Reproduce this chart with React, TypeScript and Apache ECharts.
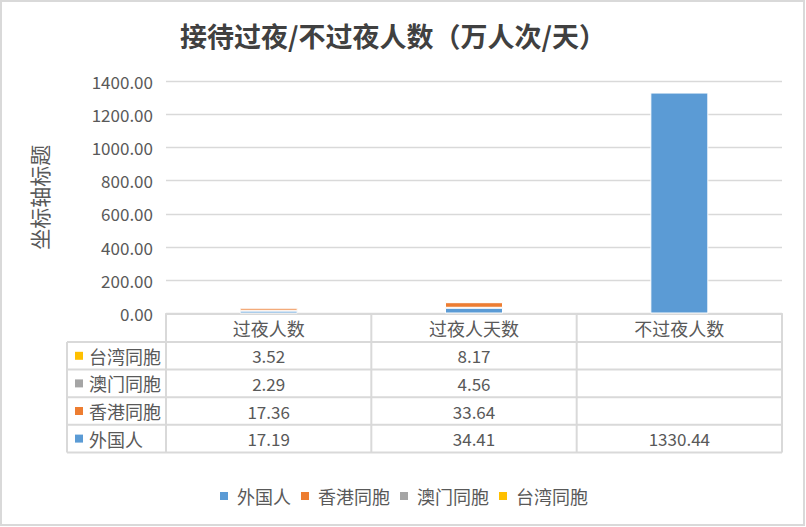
import React, { useEffect, useRef } from "react";
import * as echarts from "echarts";

const categories = ["过夜人数", "过夜人天数", "不过夜人数"];
const seriesNames = ["外国人", "香港同胞", "澳门同胞", "台湾同胞"];
const foreigners = [17.19, 34.41, 1330.44];
const hongKong = [17.36, 33.64, null];
const macau = [2.29, 4.56, null];
const taiwan = [3.52, 8.17, null];
const colors = ["#5B9BD5", "#ED7D31", "#A5A5A5", "#FFC000"];

const FONT = '"Noto Sans CJK SC", "Noto Sans", sans-serif';
const TEXT = "#595959";
const LINE = "#d9d9d9";

// 图表区域
const GRID_LEFT = 166;
const GRID_RIGHT = 782;
const GRID_TOP = 81;
const GRID_BOTTOM = 313.5;
const HEADER_H = 28.5;
const ROW_H = 27.6;
const TABLE_LEFT = 67;

export default function App() {
  const chartRef = useRef<HTMLDivElement>(null);

  useEffect(() => {
    if (!chartRef.current) return;
    const chart = echarts.init(chartRef.current, null, { renderer: "svg" });

    const allSeries = [foreigners, hongKong, macau, taiwan];

    chart.setOption({
      animation: false,
      grid: {
        left: GRID_LEFT,
        right: 806 - GRID_RIGHT,
        top: GRID_TOP,
        bottom: 527 - GRID_BOTTOM,
        containLabel: false,
      },
      legend: {
        data: seriesNames,
        left: "center",
        top: 482,
        itemWidth: 10,
        itemHeight: 10,
        itemGap: 8,
        icon: "rect",
        textStyle: { fontFamily: FONT, fontSize: 18, color: TEXT, padding: [0, 0, 0, 3] },
      },
      xAxis: {
        type: "category",
        data: categories,
        axisTick: { show: false },
        axisLine: { lineStyle: { color: LINE, width: 2 } },
        axisLabel: {
          interval: 0,
          margin: 5,
          fontFamily: FONT,
          fontSize: 18,
          color: TEXT,
        },
      },
      yAxis: {
        type: "value",
        min: 0,
        max: 1400,
        interval: 200,
        name: "坐标轴标题",
        nameLocation: "middle",
        nameGap: 117,
        nameTextStyle: { fontFamily: FONT, fontSize: 21, color: TEXT },
        axisLine: { show: false },
        axisTick: { show: false },
        axisLabel: {
          margin: 13,
          fontFamily: FONT,
          fontSize: 17,
          color: TEXT,
          formatter: (v: number) => v.toFixed(2),
        },
        splitLine: { lineStyle: { color: LINE, width: 1.3 } },
      },
      series: allSeries.map((data, i) => ({
        name: seriesNames[i],
        type: "bar",
        stack: "total",
        data,
        barWidth: 58,
        itemStyle: { color: colors[i], borderColor: "#fff", borderWidth: 1 },
      })),
    });

    // 数据表
    const colEdges = [GRID_LEFT];
    const centers: number[] = [];
    const colW = (GRID_RIGHT - GRID_LEFT) / categories.length;
    categories.forEach((c, i) => {
      const px = chart.convertToPixel({ xAxisIndex: 0 }, i) as number;
      centers.push(px);
      colEdges.push(GRID_LEFT + colW * (i + 1));
    });
    const tableBottom = GRID_BOTTOM + HEADER_H + ROW_H * seriesNames.length;
    const graphic: any[] = [];
    const line = (x1: number, y1: number, x2: number, y2: number) =>
      graphic.push({
        type: "line",
        shape: { x1, y1, x2, y2 },
        style: { stroke: LINE, lineWidth: 2 },
        z: 10,
      });

    for (let r = 0; r <= seriesNames.length; r++) {
      const y = GRID_BOTTOM + HEADER_H + ROW_H * r;
      line(TABLE_LEFT, y, GRID_RIGHT, y);
    }
    line(TABLE_LEFT, GRID_BOTTOM + HEADER_H, TABLE_LEFT, tableBottom);
    colEdges.forEach((x) => line(x, GRID_BOTTOM, x, tableBottom));

    // 行：台湾、澳门、香港、外国人
    const rowOrder = [3, 2, 1, 0];
    rowOrder.forEach((si, r) => {
      const cy = GRID_BOTTOM + HEADER_H + ROW_H * (r + 0.5);
      graphic.push({
        type: "rect",
        shape: { x: 75, y: cy - 4, width: 8, height: 8 },
        style: { fill: colors[si] },
      });
      graphic.push({
        type: "text",
        x: 89,
        y: cy,
        style: {
          text: seriesNames[si],
          font: `18px ${FONT}`,
          fill: TEXT,
          textAlign: "left",
          textVerticalAlign: "middle",
        },
      });
      allSeries[si].forEach((v, ci) => {
        if (v == null) return;
        graphic.push({
          type: "text",
          x: centers[ci],
          y: cy,
          style: {
            text: v.toFixed(2),
            font: `17px ${FONT}`,
            fill: TEXT,
            textAlign: "center",
            textVerticalAlign: "middle",
          },
        });
      });
    });

    // 标题
    graphic.push({
      type: "text",
      x: 393,
      y: 35,
      style: {
        text: "接待过夜/不过夜人数（万人次/天）",
        font: `bold 27px ${FONT}`,
        fill: "#404040",
        textAlign: "center",
        textVerticalAlign: "middle",
      },
    });

    // 外框
    graphic.push({
      type: "rect",
      shape: { x: 1, y: 1, width: 803, height: 524 },
      style: { fill: "none", stroke: LINE, lineWidth: 2 },
      silent: true,
    });

    chart.setOption({ graphic });

    return () => {
      chart.dispose();
    };
  }, []);

  return (
    <div
      ref={chartRef}
      style={{ position: "fixed", left: 0, top: 0, width: 806, height: 527, background: "#fff" }}
    ></div>
  );
}
